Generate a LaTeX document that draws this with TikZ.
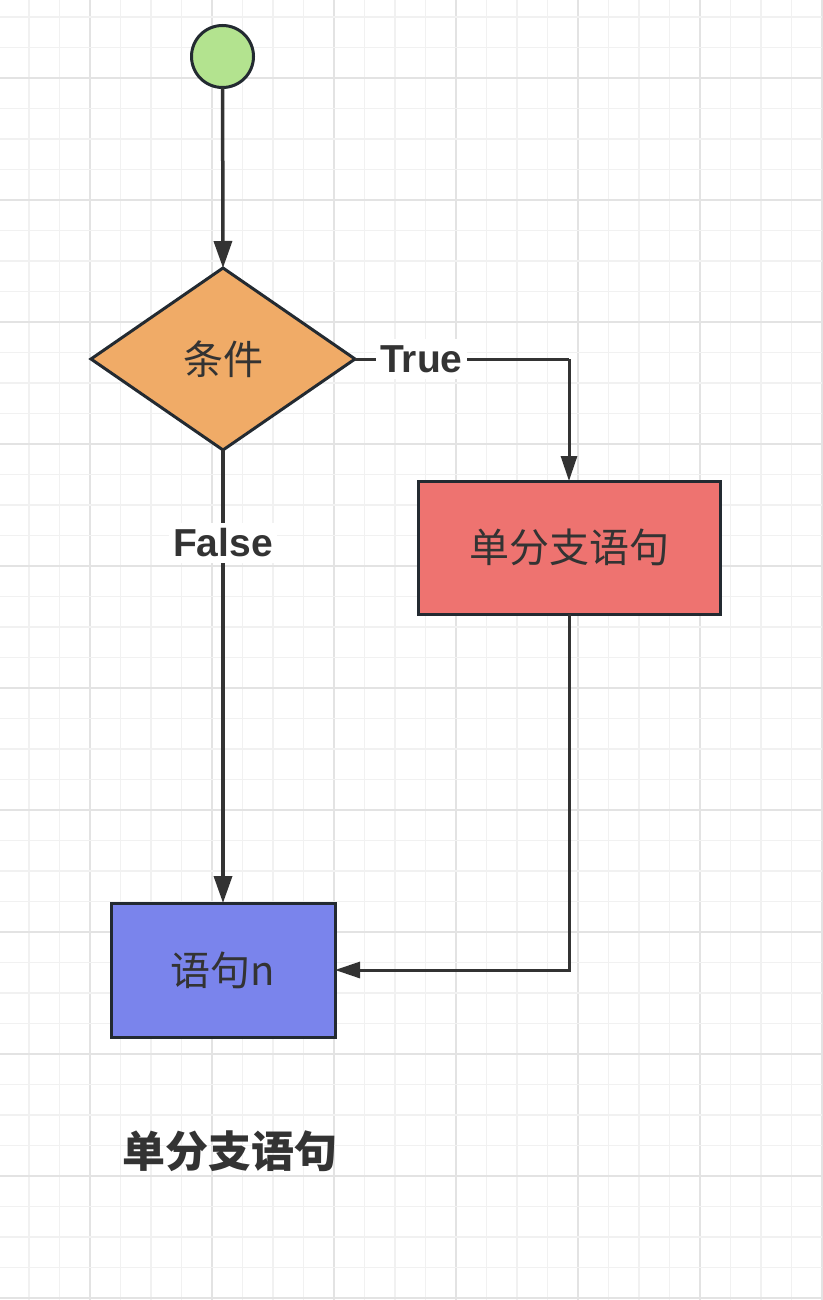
\documentclass[tikz,border=0pt]{standalone}
\usepackage{fontspec}
\setmainfont{Liberation Sans}
\newfontfamily\cjk{Noto Sans CJK SC}
\usetikzlibrary{shapes.geometric,arrows.meta}
\definecolor{gminor}{HTML}{F1F1F1}
\definecolor{gmajor}{HTML}{E3E3E3}
\definecolor{bord}{HTML}{232A31}
\definecolor{ink}{HTML}{333333}
\definecolor{cgreen}{HTML}{B3E38F}
\definecolor{corange}{HTML}{F0AB67}
\definecolor{cred}{HTML}{EE7370}
\definecolor{cblue}{HTML}{7A84EC}
\tikzset{
  shapebox/.style={draw=bord, line width=3pt, inner sep=0pt, outer sep=0pt, text=ink, font=\cjk\fontsize{40}{44}\selectfont},
  flowedge/.style={draw=ink, line width=3.5pt, -{Triangle[length=27pt,width=18pt]}},
  thinedge/.style={draw=ink, line width=3pt, -{Triangle[length=25pt,width=16pt]}},
  lbl/.style={fill=white, text=ink, inner xsep=4pt, inner ysep=6pt, font=\bfseries\fontsize{39}{42}\selectfont}
}
\begin{document}
\begin{tikzpicture}[x=1pt,y=-1pt]
\fill[white] (0,0) rectangle (822,1300);
\useasboundingbox (0,0) rectangle (822,1300);
% grid
\foreach \k in {0,...,27} {
  \pgfmathsetmacro{\xx}{-1.5+30.5*\k}
  \pgfmathtruncatemacro{\m}{mod(\k,4)}
  \ifnum\m=3 \draw[gmajor, line width=2pt] (\xx,0) -- (\xx,1300);
  \else \draw[gminor, line width=1.5pt] (\xx,0) -- (\xx,1300); \fi
}
\foreach \k in {0,...,43} {
  \pgfmathsetmacro{\yy}{-13.5+30.5*\k}
  \pgfmathtruncatemacro{\m}{mod(\k,4)}
  \ifnum\m=3 \draw[gmajor, line width=2pt] (0,\yy) -- (822,\yy);
  \else \draw[gminor, line width=1.5pt] (0,\yy) -- (822,\yy); \fi
}
% nodes
\node[shapebox, circle, fill=cgreen, minimum size=62pt] (start) at (222.5,56.5) {};
\node[shapebox, diamond, fill=corange, minimum width=264pt, minimum height=182pt] (cond) at (223,359) {条件};
\node[shapebox, rectangle, fill=cred, minimum width=302pt, minimum height=133pt] (single) at (569,547.5) {单分支语句};
\node[shapebox, rectangle, fill=cblue, minimum width=224pt, minimum height=134pt] (stmt) at (223,970) {语句n};
\node[text=ink, font=\cjk\bfseries\fontsize{43}{48}\selectfont] (title) at (230,1151) {单分支语句};
\coordinate (tc) at (569,359);
% edges
\draw[flowedge] (start) -- (cond.north);
\draw[flowedge] (cond.south) -- node[lbl, pos=0.205] {False} (stmt.north);
\draw[draw=ink, line width=3pt] (cond.east) -- node[lbl, pos=0.31] {True} (tc);
\draw[thinedge] (tc) -- (single.north);
\draw[thinedge] (single.south) |- (stmt.east);
\end{tikzpicture}
\end{document}
